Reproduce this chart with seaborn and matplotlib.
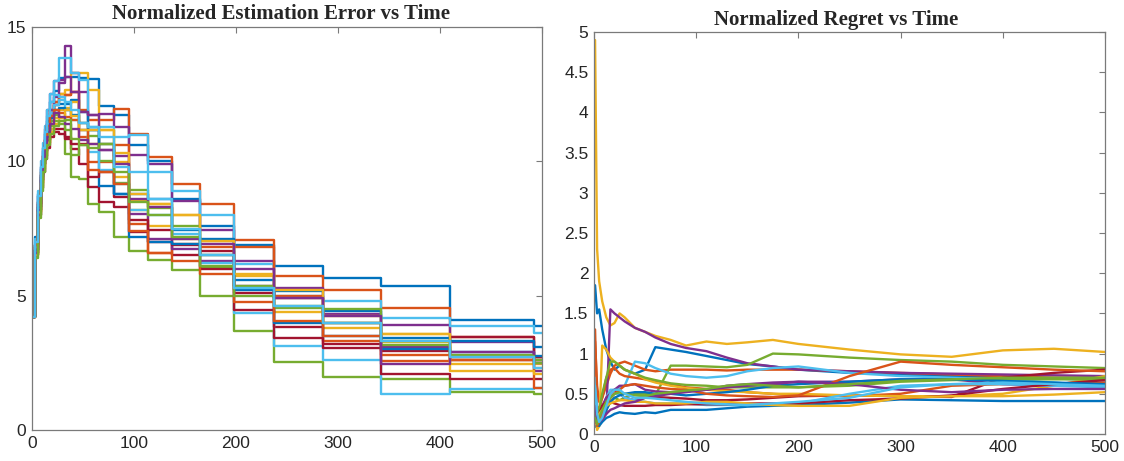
"""
Normalized estimation error / regret vs time, two panels
"""

import numpy as np
import pandas as pd
import matplotlib
matplotlib.use("Agg")
import matplotlib.pyplot as plt
import seaborn as sns

# MATLAB default colour order
MATLAB_COLORS = ['#0072BD', '#D95319', '#EDB120', '#7E2F8E',
                 '#77AC30', '#4DBEEE', '#A2142F']

# ---- left panel: step times (estimate refreshed at these times) ----
err_times = [0, 3, 6, 9, 11, 13, 15, 18, 22, 26, 32, 38, 46, 55, 66, 80,
             95, 114, 137, 165, 198, 237, 285, 342, 410, 492, 500]

err_series = [
    [4.2, 7.2, 8.8, 9.7, 10.4, 11.0, 11.5, 12.2, 12.6, 13.1, 13.15, 13.15, 13.1, 13.08, 12.05, 11.72, 10.6, 10.0, 8.6, 7.6, 6.9, 6.1, 5.66, 5.37, 4.1, 3.87],
    [4.2, 6.8, 8.4, 9.4, 10.0, 10.6, 11.2, 11.8, 12.2, 12.5, 12.46, 12.59, 11.9, 11.53, 11.53, 11.93, 11.03, 10.16, 9.17, 8.42, 7.09, 5.75, 5.21, 4.53, 3.47, 2.7],
    [4.2, 6.6, 8.2, 9.3, 9.9, 10.4, 10.9, 11.5, 12.1, 12.5, 12.65, 13.27, 13.27, 12.67, 11.16, 9.97, 8.54, 8.4, 7.99, 7.03, 5.75, 4.38, 3.79, 3.57, 2.6, 2.45],
    [4.2, 6.9, 8.7, 9.8, 10.5, 11.2, 11.9, 12.5, 13.0, 13.02, 14.3, 13.3, 12.59, 11.72, 11.78, 11.26, 10.22, 9.91, 8.54, 7.45, 6.3, 5.29, 4.32, 3.92, 3.26, 2.6],
    [4.2, 6.5, 8.0, 9.0, 9.6, 10.2, 10.8, 11.3, 11.5, 11.4, 10.29, 9.41, 9.35, 8.42, 8.11, 7.18, 6.68, 6.31, 5.96, 5.0, 3.69, 2.55, 1.98, 1.89, 1.43, 1.35],
    [4.2, 7.1, 8.9, 10.0, 10.7, 11.3, 11.9, 12.5, 13.0, 13.83, 13.83, 13.3, 13.02, 11.28, 11.28, 10.91, 10.97, 9.6, 8.9, 8.02, 6.18, 5.0, 4.81, 4.17, 3.88, 3.6],
    [4.2, 6.7, 8.3, 9.3, 9.9, 10.4, 10.8, 11.1, 11.2, 11.2, 10.85, 10.47, 9.91, 9.04, 8.48, 8.3, 7.36, 7.43, 6.53, 6.68, 5.09, 3.84, 3.22, 2.95, 3.47, 2.7],
    [4.2, 6.9, 8.5, 9.5, 10.1, 10.7, 11.3, 11.7, 12.1, 12.15, 12.15, 12.28, 11.84, 11.16, 9.1, 8.79, 8.79, 8.61, 7.43, 7.12, 5.59, 5.16, 4.44, 3.42, 3.3, 3.1],
    [4.2, 6.8, 8.4, 9.5, 10.2, 10.8, 11.4, 11.9, 12.2, 12.4, 12.46, 12.59, 10.91, 9.97, 9.97, 10.6, 7.67, 6.58, 6.93, 6.83, 6.8, 5.0, 3.32, 2.57, 2.72, 2.6],
    [4.2, 6.6, 8.1, 9.1, 9.7, 10.2, 10.7, 11.2, 11.6, 11.9, 12.0, 12.2, 11.41, 10.66, 10.66, 9.41, 8.2, 7.6, 7.12, 6.5, 5.26, 4.9, 4.23, 3.26, 2.45, 2.3],
    [4.2, 6.7, 8.4, 9.5, 10.2, 10.8, 11.4, 11.9, 12.4, 12.9, 13.15, 12.59, 11.84, 11.72, 10.41, 10.2, 8.05, 7.12, 6.74, 6.3, 5.37, 4.9, 4.0, 3.1, 2.6, 2.2],
    [4.2, 6.6, 8.2, 9.2, 9.9, 10.5, 11.0, 11.5, 11.72, 11.6, 11.16, 10.22, 10.6, 10.93, 10.0, 9.2, 8.92, 8.26, 7.61, 6.06, 5.37, 4.54, 4.5, 3.17, 2.8, 2.6],
    [4.2, 6.8, 8.5, 9.6, 10.3, 10.9, 11.4, 11.8, 12.1, 12.3, 11.9, 11.53, 11.16, 10.35, 9.69, 9.17, 8.2, 7.99, 7.3, 6.2, 4.34, 3.13, 2.62, 1.33, 1.52, 1.55],
    [4.2, 6.5, 8.0, 9.0, 9.6, 10.1, 10.5, 10.9, 11.1, 11.0, 10.9, 10.66, 10.66, 9.41, 9.6, 8.67, 7.8, 7.0, 6.9, 6.0, 4.47, 3.44, 3.07, 2.1, 1.89, 1.9],
    [4.2, 6.7, 8.3, 9.4, 10.0, 10.6, 11.1, 11.6, 11.9, 12.0, 11.9, 11.72, 11.41, 11.16, 10.66, 8.79, 7.18, 7.0, 6.93, 6.5, 5.2, 4.0, 3.5, 3.0, 2.9, 2.75],
    [4.2, 6.9, 8.5, 9.6, 10.2, 10.8, 11.3, 11.7, 11.9, 11.8, 11.65, 11.53, 11.16, 9.69, 9.6, 9.17, 7.4, 6.58, 6.3, 5.8, 4.75, 4.07, 3.5, 2.8, 2.6, 1.55],
    [4.2, 6.5, 8.1, 9.2, 9.8, 10.3, 10.7, 11.1, 11.4, 11.6, 11.9, 11.7, 11.16, 11.16, 11.16, 10.3, 8.8, 8.4, 7.99, 7.03, 5.81, 5.2, 4.0, 3.57, 2.2, 2.1],
    [4.2, 6.6, 8.2, 9.3, 9.9, 10.4, 10.9, 11.4, 11.8, 11.65, 11.4, 11.2, 10.8, 10.66, 10.41, 9.9, 8.6, 8.3, 7.12, 6.93, 6.0, 4.9, 4.23, 2.47, 2.89, 2.5],
    [4.2, 6.4, 7.9, 8.9, 9.6, 10.1, 10.6, 11.0, 11.3, 11.5, 11.53, 10.85, 10.6, 10.5, 10.66, 9.6, 8.5, 8.0, 7.2, 6.1, 5.0, 4.6, 3.97, 3.3, 2.75, 2.5],
    [4.2, 7.0, 8.7, 9.8, 10.5, 11.1, 11.7, 12.2, 12.46, 12.4, 12.2, 11.9, 11.41, 11.28, 10.91, 9.8, 9.6, 8.6, 7.5, 6.5, 5.3, 4.6, 4.0, 3.3, 2.7, 2.3],
]

# ---- right panel: normalized regret ----
reg_times = [1, 3, 5, 8, 12, 16, 20, 25, 30, 40, 50, 60, 75, 90, 110, 130,
             150, 175, 200, 250, 300, 350, 400, 450, 500]

reg_series = [
    [1.85, 1.5, 1.55, 1.3, 1.05, 0.9, 0.8, 0.85, 0.8, 0.75, 0.8, 1.08, 1.05, 1.02, 0.97, 0.92, 0.87, 0.84, 0.8, 0.76, 0.74, 0.72, 0.71, 0.69, 0.67],
    [1.3, 0.35, 0.3, 0.45, 0.6, 0.75, 0.85, 0.88, 0.9, 0.85, 0.8, 0.78, 0.8, 0.8, 0.8, 0.79, 0.8, 0.8, 0.8, 0.78, 0.76, 0.74, 0.72, 0.7, 0.7],
    [4.9, 2.3, 1.9, 1.65, 1.45, 1.35, 1.38, 1.5, 1.45, 1.32, 1.27, 1.22, 1.17, 1.1, 1.15, 1.12, 1.14, 1.17, 1.12, 1.05, 0.99, 0.96, 1.04, 1.06, 1.02],
    [0.4, 0.2, 0.18, 0.2, 0.25, 1.55, 1.5, 1.45, 1.4, 1.32, 1.27, 1.2, 1.12, 1.07, 1.03, 0.95, 0.88, 0.84, 0.8, 0.78, 0.76, 0.75, 0.74, 0.73, 0.72],
    [0.3, 0.15, 0.2, 0.25, 0.3, 0.4, 0.45, 0.42, 0.45, 0.5, 0.5, 0.48, 0.85, 0.85, 0.84, 0.83, 0.86, 1.0, 0.99, 0.95, 0.92, 0.9, 0.86, 0.84, 0.82],
    [0.7, 0.3, 0.2, 0.3, 0.45, 0.55, 0.55, 0.58, 0.6, 0.9, 0.88, 0.82, 0.75, 0.72, 0.7, 0.72, 0.78, 0.82, 0.84, 0.76, 0.72, 0.7, 0.68, 0.64, 0.59],
    [0.4, 0.25, 0.2, 0.3, 0.45, 0.5, 0.55, 0.5, 0.45, 0.42, 0.45, 0.46, 0.45, 0.44, 0.42, 0.42, 0.43, 0.45, 0.47, 0.48, 0.47, 0.46, 0.7, 0.76, 0.8],
    [0.1, 0.08, 0.1, 0.15, 0.2, 0.22, 0.25, 0.27, 0.26, 0.25, 0.27, 0.26, 0.3, 0.3, 0.3, 0.32, 0.34, 0.35, 0.36, 0.39, 0.43, 0.42, 0.41, 0.41, 0.41],
    [1.15, 0.6, 0.4, 0.45, 0.7, 0.8, 0.82, 0.75, 0.72, 0.7, 0.68, 0.66, 0.62, 0.58, 0.56, 0.55, 0.52, 0.5, 0.48, 0.47, 0.5, 0.6, 0.62, 0.63, 0.64],
    [0.3, 0.05, 0.1, 1.1, 1.05, 0.95, 0.9, 0.85, 0.8, 0.75, 0.68, 0.64, 0.6, 0.57, 0.55, 0.53, 0.52, 0.5, 0.5, 0.48, 0.47, 0.47, 0.5, 0.6, 0.72],
    [0.4, 0.15, 0.2, 0.35, 0.45, 0.5, 0.55, 0.6, 0.6, 0.62, 0.55, 0.53, 0.52, 0.53, 0.55, 0.6, 0.62, 0.64, 0.65, 0.65, 0.68, 0.68, 0.62, 0.6, 0.62],
    [0.25, 0.15, 0.3, 0.5, 0.7, 0.9, 0.9, 0.85, 0.8, 0.75, 0.7, 0.67, 0.63, 0.61, 0.6, 0.58, 0.58, 0.58, 0.58, 0.6, 0.65, 0.67, 0.68, 0.68, 0.68],
    [0.5, 0.2, 0.15, 0.2, 0.4, 0.45, 0.5, 0.5, 0.45, 0.42, 0.4, 0.38, 0.38, 0.38, 0.36, 0.36, 0.36, 0.37, 0.38, 0.5, 0.6, 0.62, 0.62, 0.6, 0.58],
    [0.2, 0.15, 0.25, 0.35, 0.4, 0.4, 0.38, 0.36, 0.35, 0.35, 0.35, 0.36, 0.36, 0.37, 0.37, 0.37, 0.38, 0.38, 0.38, 0.42, 0.44, 0.48, 0.56, 0.62, 0.67],
    [0.3, 0.12, 0.1, 0.2, 0.3, 0.4, 0.45, 0.48, 0.5, 0.52, 0.52, 0.5, 0.5, 0.48, 0.5, 0.52, 0.55, 0.6, 0.62, 0.65, 0.68, 0.68, 0.66, 0.64, 0.62],
    [0.2, 0.1, 0.15, 0.25, 0.35, 0.45, 0.5, 0.55, 0.6, 0.62, 0.6, 0.58, 0.56, 0.55, 0.5, 0.48, 0.47, 0.46, 0.48, 0.72, 0.9, 0.86, 0.83, 0.8, 0.78],
    [0.35, 0.2, 0.25, 0.3, 0.35, 0.38, 0.4, 0.42, 0.42, 0.4, 0.4, 0.38, 0.38, 0.38, 0.4, 0.4, 0.38, 0.36, 0.35, 0.35, 0.45, 0.47, 0.47, 0.49, 0.52],
    [0.35, 0.2, 0.15, 0.18, 0.25, 0.3, 0.32, 0.35, 0.38, 0.4, 0.45, 0.47, 0.5, 0.52, 0.55, 0.58, 0.6, 0.62, 0.65, 0.62, 0.55, 0.52, 0.55, 0.56, 0.56],
    [0.2, 0.12, 0.2, 0.3, 0.4, 0.45, 0.5, 0.52, 0.5, 0.48, 0.47, 0.5, 0.52, 0.54, 0.56, 0.6, 0.62, 0.6, 0.58, 0.62, 0.66, 0.68, 0.7, 0.7, 0.7],
    [0.6, 0.25, 0.15, 0.2, 0.35, 0.5, 0.55, 0.55, 0.5, 0.45, 0.45, 0.44, 0.42, 0.4, 0.38, 0.37, 0.36, 0.38, 0.4, 0.45, 0.58, 0.62, 0.64, 0.62, 0.6],
]

x_ticks = [0, 100, 200, 300, 400, 500]
err_yticks = [0, 5, 10, 15]
reg_yticks = [0, 0.5, 1, 1.5, 2, 2.5, 3, 3.5, 4, 4.5, 5]
reg_ylabels = ['0', '0.5', '1', '1.5', '2', '2.5', '3', '3.5', '4', '4.5', '5']


def to_long(times, series, hold_last=False):
    rows = []
    for i, vals in enumerate(series):
        vals = list(vals)
        if hold_last:
            vals = vals + [vals[-1]]
        for t, v in zip(times, vals):
            rows.append({'t': t, 'v': v, 'run': i})
    return pd.DataFrame(rows)


def style_axes(ax):
    for side in ['top', 'right', 'bottom', 'left']:
        ax.spines[side].set_visible(True)
        ax.spines[side].set_color('#7a7a7a')
        ax.spines[side].set_linewidth(0.9)
    ax.tick_params(direction='in', length=4, width=0.8, color='#7a7a7a',
                   top=True, right=True, labelsize=12.5, labelcolor='#262626',
                   pad=4)
    ax.set_xlabel('')
    ax.set_ylabel('')
    for lab in ax.get_xticklabels() + ax.get_yticklabels():
        lab.set_family(['Liberation Sans', 'DejaVu Sans'])


sns.set_style('white')
plt.rcParams['font.family'] = ['Liberation Sans', 'DejaVu Sans']

n_runs = len(err_series)
palette = [MATLAB_COLORS[i % 7] for i in range(n_runs)]

fig = plt.figure(figsize=(11.24, 4.61), dpi=100)
ax1 = fig.add_axes([0.0285, 0.0672, 0.4537, 0.8742])
ax2 = fig.add_axes([0.5285, 0.0586, 0.4546, 0.8720])

df_err = to_long(err_times, err_series, hold_last=True)
sns.lineplot(data=df_err, x='t', y='v', hue='run', palette=palette,
             estimator=None, sort=False, legend=False, drawstyle='steps-post',
             linewidth=1.7, ax=ax1)
ax1.set_xlim(0, 500)
ax1.set_ylim(0, 15)
ax1.set_xticks(x_ticks)
ax1.set_yticks(err_yticks)
style_axes(ax1)
ax1.set_title('Normalized Estimation Error vs Time', x=0.489, pad=6,
              fontsize=15, fontweight='bold',
              family=['Liberation Serif', 'DejaVu Serif'])

df_reg = to_long(reg_times, reg_series)
sns.lineplot(data=df_reg, x='t', y='v', hue='run', palette=palette,
             estimator=None, sort=False, legend=False, linewidth=1.7, ax=ax2)
ax2.set_xlim(0, 500)
ax2.set_ylim(0, 5)
ax2.set_xticks(x_ticks)
ax2.set_yticks(reg_yticks)
ax2.set_yticklabels(reg_ylabels)
style_axes(ax2)
ax2.set_title('Normalized Regret vs Time', x=0.4746, pad=5,
              fontsize=15, fontweight='bold',
              family=['Liberation Serif', 'DejaVu Serif'])

fig.savefig('out.png', dpi=100)
